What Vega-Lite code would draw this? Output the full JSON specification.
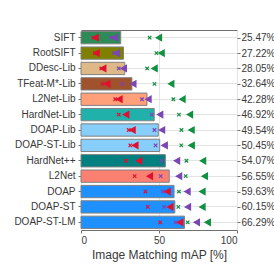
{
  "$schema": "https://vega.github.io/schema/vega-lite/v6.json",
  "autosize": {"type": "none"},
  "width": 156,
  "height": 200,
  "padding": {"left": 81, "top": 30, "right": 37, "bottom": 44},
  "background": "white",
  "config": {
    "font": "Liberation Sans",
    "view": {"stroke": "#707070", "strokeWidth": 1},
    "axis": {"labelFont": "Liberation Sans", "titleFont": "Liberation Sans", "labelColor": "#383838", "titleColor": "#383838", "tickColor": "#707070", "domain": false}
  },
  "datasets": {
    "bars": [
      {"name": "SIFT", "pct": "25.47%", "mean": 25.47},
      {"name": "RootSIFT", "pct": "27.22%", "mean": 27.22},
      {"name": "DDesc-Lib", "pct": "28.05%", "mean": 28.05},
      {"name": "TFeat-M*-Lib", "pct": "32.64%", "mean": 32.64},
      {"name": "L2Net-Lib", "pct": "42.28%", "mean": 42.28},
      {"name": "HardNet-Lib", "pct": "46.92%", "mean": 46.92},
      {"name": "DOAP-Lib", "pct": "49.54%", "mean": 49.54},
      {"name": "DOAP-ST-Lib", "pct": "50.45%", "mean": 50.45},
      {"name": "HardNet++", "pct": "54.07%", "mean": 54.07},
      {"name": "L2Net", "pct": "56.55%", "mean": 56.55},
      {"name": "DOAP", "pct": "59.63%", "mean": 59.63},
      {"name": "DOAP-ST", "pct": "60.15%", "mean": 60.15},
      {"name": "DOAP-ST-LM", "pct": "66.29%", "mean": 66.29}
    ],
    "markers": [
      {"name": "SIFT", "diff": "Tough", "type": "Viewpoint", "value": 8.0},
      {"name": "SIFT", "diff": "Tough", "type": "Illumination", "value": 9.3},
      {"name": "SIFT", "diff": "Hard", "type": "Viewpoint", "value": 19.3},
      {"name": "SIFT", "diff": "Hard", "type": "Illumination", "value": 21.7},
      {"name": "SIFT", "diff": "Easy", "type": "Viewpoint", "value": 44.0},
      {"name": "SIFT", "diff": "Easy", "type": "Illumination", "value": 49.9},
      {"name": "RootSIFT", "diff": "Tough", "type": "Viewpoint", "value": 9.0},
      {"name": "RootSIFT", "diff": "Tough", "type": "Illumination", "value": 9.9},
      {"name": "RootSIFT", "diff": "Hard", "type": "Viewpoint", "value": 21.0},
      {"name": "RootSIFT", "diff": "Hard", "type": "Illumination", "value": 22.8},
      {"name": "RootSIFT", "diff": "Easy", "type": "Viewpoint", "value": 48.4},
      {"name": "RootSIFT", "diff": "Easy", "type": "Illumination", "value": 51.6},
      {"name": "DDesc-Lib", "diff": "Tough", "type": "Viewpoint", "value": 13.0},
      {"name": "DDesc-Lib", "diff": "Tough", "type": "Illumination", "value": 14.2},
      {"name": "DDesc-Lib", "diff": "Hard", "type": "Viewpoint", "value": 24.2},
      {"name": "DDesc-Lib", "diff": "Hard", "type": "Illumination", "value": 27.4},
      {"name": "DDesc-Lib", "diff": "Easy", "type": "Viewpoint", "value": 42.4},
      {"name": "DDesc-Lib", "diff": "Easy", "type": "Illumination", "value": 47.1},
      {"name": "TFeat-M*-Lib", "diff": "Tough", "type": "Viewpoint", "value": 13.8},
      {"name": "TFeat-M*-Lib", "diff": "Tough", "type": "Illumination", "value": 16.8},
      {"name": "TFeat-M*-Lib", "diff": "Hard", "type": "Viewpoint", "value": 26.6},
      {"name": "TFeat-M*-Lib", "diff": "Hard", "type": "Illumination", "value": 33.5},
      {"name": "TFeat-M*-Lib", "diff": "Easy", "type": "Viewpoint", "value": 47.1},
      {"name": "TFeat-M*-Lib", "diff": "Easy", "type": "Illumination", "value": 57.8},
      {"name": "L2Net-Lib", "diff": "Tough", "type": "Viewpoint", "value": 22.0},
      {"name": "L2Net-Lib", "diff": "Tough", "type": "Illumination", "value": 24.6},
      {"name": "L2Net-Lib", "diff": "Hard", "type": "Viewpoint", "value": 39.1},
      {"name": "L2Net-Lib", "diff": "Hard", "type": "Illumination", "value": 43.2},
      {"name": "L2Net-Lib", "diff": "Easy", "type": "Viewpoint", "value": 59.2},
      {"name": "L2Net-Lib", "diff": "Easy", "type": "Illumination", "value": 65.0},
      {"name": "HardNet-Lib", "diff": "Tough", "type": "Viewpoint", "value": 24.2},
      {"name": "HardNet-Lib", "diff": "Tough", "type": "Illumination", "value": 28.9},
      {"name": "HardNet-Lib", "diff": "Hard", "type": "Viewpoint", "value": 45.3},
      {"name": "HardNet-Lib", "diff": "Hard", "type": "Illumination", "value": 50.7},
      {"name": "HardNet-Lib", "diff": "Easy", "type": "Viewpoint", "value": 62.8},
      {"name": "HardNet-Lib", "diff": "Easy", "type": "Illumination", "value": 69.8},
      {"name": "DOAP-Lib", "diff": "Tough", "type": "Viewpoint", "value": 30.6},
      {"name": "DOAP-Lib", "diff": "Tough", "type": "Illumination", "value": 33.0},
      {"name": "DOAP-Lib", "diff": "Hard", "type": "Viewpoint", "value": 47.1},
      {"name": "DOAP-Lib", "diff": "Hard", "type": "Illumination", "value": 51.9},
      {"name": "DOAP-Lib", "diff": "Easy", "type": "Viewpoint", "value": 64.4},
      {"name": "DOAP-Lib", "diff": "Easy", "type": "Illumination", "value": 70.8},
      {"name": "DOAP-ST-Lib", "diff": "Tough", "type": "Viewpoint", "value": 31.6},
      {"name": "DOAP-ST-Lib", "diff": "Tough", "type": "Illumination", "value": 34.8},
      {"name": "DOAP-ST-Lib", "diff": "Hard", "type": "Viewpoint", "value": 47.8},
      {"name": "DOAP-ST-Lib", "diff": "Hard", "type": "Illumination", "value": 53.6},
      {"name": "DOAP-ST-Lib", "diff": "Easy", "type": "Viewpoint", "value": 64.3},
      {"name": "DOAP-ST-Lib", "diff": "Easy", "type": "Illumination", "value": 70.9},
      {"name": "HardNet++", "diff": "Tough", "type": "Viewpoint", "value": 28.7},
      {"name": "HardNet++", "diff": "Tough", "type": "Illumination", "value": 37.2},
      {"name": "HardNet++", "diff": "Hard", "type": "Viewpoint", "value": 51.5},
      {"name": "HardNet++", "diff": "Hard", "type": "Illumination", "value": 61.5},
      {"name": "HardNet++", "diff": "Easy", "type": "Viewpoint", "value": 67.6},
      {"name": "HardNet++", "diff": "Easy", "type": "Illumination", "value": 78.2},
      {"name": "L2Net", "diff": "Tough", "type": "Viewpoint", "value": 34.4},
      {"name": "L2Net", "diff": "Tough", "type": "Illumination", "value": 44.1},
      {"name": "L2Net", "diff": "Hard", "type": "Viewpoint", "value": 51.1},
      {"name": "L2Net", "diff": "Hard", "type": "Illumination", "value": 62.8},
      {"name": "L2Net", "diff": "Easy", "type": "Viewpoint", "value": 67.1},
      {"name": "L2Net", "diff": "Easy", "type": "Illumination", "value": 79.3},
      {"name": "DOAP", "diff": "Tough", "type": "Viewpoint", "value": 41.3},
      {"name": "DOAP", "diff": "Tough", "type": "Illumination", "value": 55.4},
      {"name": "DOAP", "diff": "Hard", "type": "Viewpoint", "value": 52.5},
      {"name": "DOAP", "diff": "Hard", "type": "Illumination", "value": 68.2},
      {"name": "DOAP", "diff": "Easy", "type": "Viewpoint", "value": 62.8},
      {"name": "DOAP", "diff": "Easy", "type": "Illumination", "value": 77.8},
      {"name": "DOAP-ST", "diff": "Tough", "type": "Viewpoint", "value": 42.8},
      {"name": "DOAP-ST", "diff": "Tough", "type": "Illumination", "value": 57.1},
      {"name": "DOAP-ST", "diff": "Hard", "type": "Viewpoint", "value": 53.2},
      {"name": "DOAP-ST", "diff": "Hard", "type": "Illumination", "value": 68.5},
      {"name": "DOAP-ST", "diff": "Easy", "type": "Viewpoint", "value": 62.4},
      {"name": "DOAP-ST", "diff": "Easy", "type": "Illumination", "value": 77.8},
      {"name": "DOAP-ST-LM", "diff": "Tough", "type": "Viewpoint", "value": 50.7},
      {"name": "DOAP-ST-LM", "diff": "Tough", "type": "Illumination", "value": 63.5},
      {"name": "DOAP-ST-LM", "diff": "Hard", "type": "Viewpoint", "value": 60.7},
      {"name": "DOAP-ST-LM", "diff": "Hard", "type": "Illumination", "value": 74.2},
      {"name": "DOAP-ST-LM", "diff": "Easy", "type": "Viewpoint", "value": 68.4},
      {"name": "DOAP-ST-LM", "diff": "Easy", "type": "Illumination", "value": 81.2}
    ]
  },
  "layer": [
    {
      "layer": [
        {
          "data": {"name": "bars"},
          "mark": {"type": "bar", "stroke": "#808080", "strokeWidth": 1},
          "encoding": {
            "y": {"field": "name", "type": "nominal", "sort": null,
              "scale": {"paddingInner": 0.2, "paddingOuter": 0.1},
              "axis": {"title": null, "orient": "left", "bandPosition": 0.5, "grid": true, "gridColor": "#e3e3e3", "labelFontSize": 10, "tickSize": 3, "labelPadding": 3}},
            "x": {"field": "mean", "type": "quantitative",
              "scale": {"domain": [0, 100], "nice": false},
              "axis": {"title": "Image Matching mAP [%]", "values": [0, 50, 100], "grid": true, "gridColor": "#e3e3e3", "labelFontSize": 10, "tickSize": 3, "labelPadding": 2, "titleFontSize": 12, "titleFontWeight": "normal", "titlePadding": 4}},
            "color": {"field": "name", "type": "nominal", "legend": null,
              "scale": {
                "domain": ["SIFT", "RootSIFT", "DDesc-Lib", "TFeat-M*-Lib", "L2Net-Lib", "HardNet-Lib", "DOAP-Lib", "DOAP-ST-Lib", "HardNet++", "L2Net", "DOAP", "DOAP-ST", "DOAP-ST-LM"],
                "range": ["#2e8b57", "#808000", "#deb887", "#a0522d", "#ffa07a", "#20b2aa", "#87cefa", "#87cefa", "#008080", "#fa8072", "#1e90ff", "#1e90ff", "#1e90ff"]}}
          }
        },
        {
          "data": {"name": "markers"},
          "mark": {"type": "point", "filled": true, "strokeWidth": 1.2, "opacity": 1},
          "encoding": {
            "y": {"field": "name", "type": "nominal", "sort": null},
            "x": {"field": "value", "type": "quantitative"},
            "fill": {"field": "diff", "type": "nominal", "legend": null,
              "scale": {"domain": ["Tough", "Hard", "Easy"], "range": ["#e0102f", "#7a45b5", "#109040"]}},
            "stroke": {"field": "diff", "type": "nominal", "legend": null,
              "scale": {"domain": ["Tough", "Hard", "Easy"], "range": ["#e0102f", "#7a45b5", "#109040"]}},
            "shape": {"field": "type", "type": "nominal", "legend": null,
              "scale": {"domain": ["Viewpoint", "Illumination"], "range": ["M-1,-1L1,1M1,-1L-1,1", "triangle-left"]}},
            "size": {"field": "type", "type": "nominal", "legend": null,
              "scale": {"domain": ["Viewpoint", "Illumination"], "range": [12, 38]}}
          }
        }
      ]
    },
    {
      "data": {"name": "bars"},
      "mark": {"type": "point", "opacity": 0},
      "encoding": {
        "y": {"field": "pct", "type": "nominal", "sort": null,
          "scale": {"paddingInner": 0.2, "paddingOuter": 0.1},
          "axis": {"title": null, "orient": "right", "bandPosition": 0.5, "grid": false, "labelFontSize": 10, "tickSize": 3, "labelPadding": 1}},
        "x": {"field": "mean", "type": "quantitative"}
      }
    }
  ],
  "resolve": {"scale": {"y": "independent"}}
}
